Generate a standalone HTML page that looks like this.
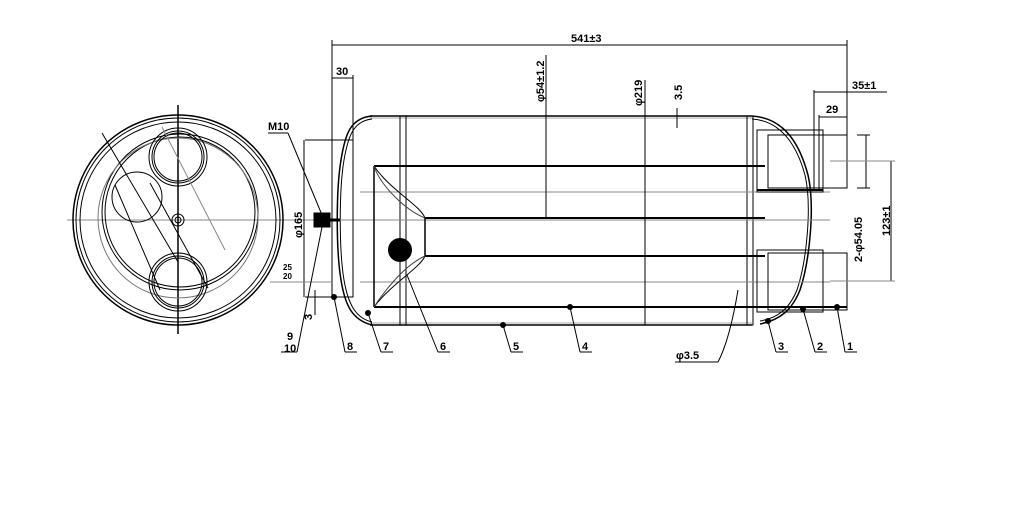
<!DOCTYPE html>
<html><head><meta charset="utf-8"><style>
html,body{margin:0;padding:0;background:#fff;width:1024px;height:507px;overflow:hidden}
svg{display:block}
text{font-family:"Liberation Sans",sans-serif;font-weight:bold;fill:#000}
</style></head><body>
<svg width="1024" height="507" viewBox="0 0 1024 507" xmlns="http://www.w3.org/2000/svg">
<g fill="none" stroke="#000" stroke-width="1">
<line x1="67" y1="220" x2="330" y2="220" stroke="#888"/>
<line x1="178" y1="105" x2="178" y2="334" stroke-width="1.5"/>
<circle cx="178" cy="220" r="105" stroke-width="1.5"/>
<circle cx="178" cy="220" r="102"/>
<circle cx="178" cy="220" r="98"/>
<circle cx="180" cy="212" r="78"/>
<circle cx="180" cy="212" r="75"/>
<circle cx="178" cy="218" r="80" stroke="#777"/>
<circle cx="178" cy="157" r="29"/><circle cx="178" cy="157" r="26"/><circle cx="178" cy="157" r="24"/>
<circle cx="178" cy="282" r="29"/><circle cx="178" cy="282" r="26"/><circle cx="178" cy="282" r="24"/>
<circle cx="137" cy="197" r="25"/>
<circle cx="178" cy="220" r="6"/><circle cx="178" cy="220" r="3"/>
<line x1="102" y1="133" x2="178" y2="262"/>
<line x1="115" y1="185" x2="160" y2="290"/>
<line x1="150" y1="183" x2="208" y2="288"/>
<line x1="162" y1="127" x2="225" y2="250" stroke="#888"/>
<line x1="370" y1="116" x2="752" y2="116" stroke-width="1.5"/>
<line x1="370" y1="118" x2="752" y2="118" stroke="#aaa"/>
<line x1="370" y1="325" x2="752" y2="325" stroke-width="1.5"/>
<line x1="370" y1="323" x2="752" y2="323" stroke="#aaa"/>
<path d="M372 116 C350 118 345 135 341 160 C336 190 336 250 341 280 C345 305 352 320 372 325" stroke-width="1.5"/>
<path d="M372 119 C353 121 348 137 344 160 C339 190 339 250 344 280 C348 303 355 318 372 322"/>
<path d="M752 116 C785 118 800 145 808 175 C815 205 810 260 800 290 C792 310 780 320 760 324" stroke-width="1.5"/>
<path d="M752 119 C782 121 797 146 805 175 C812 205 807 260 797 290 C789 309 778 318 760 321"/>
<rect x="400" y="116" width="6" height="209"/>
<rect x="747" y="116" width="6" height="209"/>
<line x1="374" y1="166" x2="765" y2="166" stroke-width="2"/>
<line x1="425" y1="218" x2="765" y2="218" stroke-width="2"/>
<line x1="425" y1="256" x2="765" y2="256" stroke-width="2"/>
<line x1="374" y1="307" x2="770" y2="307" stroke-width="2"/>
<line x1="360" y1="192" x2="830" y2="192" stroke="#888"/>
<line x1="320" y1="220" x2="830" y2="220" stroke="#888"/>
<line x1="360" y1="282" x2="830" y2="282" stroke="#888"/>
<line x1="374" y1="166" x2="374" y2="307" stroke-width="1.5"/>
<line x1="425" y1="218" x2="425" y2="256" stroke-width="1.5"/>
<path d="M374 166 C390 190 420 205 425 218"/>
<path d="M374 307 C390 285 420 268 425 256"/>
<path d="M374 166 C380 185 405 210 425 218" stroke="#444"/>
<path d="M374 307 C385 290 405 265 425 256" stroke="#444"/>
<rect x="757" y="130" width="66" height="62"/>
<rect x="768" y="135" width="79" height="53"/>
<line x1="757" y1="190" x2="823" y2="190" stroke-width="2"/>
<rect x="757" y="250" width="66" height="62"/>
<rect x="768" y="253" width="79" height="57"/>
<line x1="757" y1="307" x2="847" y2="307" stroke-width="2"/>
<rect x="332" y="140" width="21" height="157"/>
<rect x="314" y="213" width="16" height="14" fill="#000"/>
<line x1="330" y1="220" x2="340" y2="220" stroke-width="3"/>
<line x1="332" y1="45" x2="847" y2="45"/>
<line x1="332" y1="40" x2="332" y2="140"/>
<line x1="847" y1="40" x2="847" y2="140"/>
<line x1="332" y1="78" x2="353" y2="78"/>
<line x1="353" y1="75" x2="353" y2="150"/>
<line x1="546" y1="55" x2="546" y2="218"/>
<line x1="645" y1="80" x2="645" y2="325"/>
<line x1="677" y1="108" x2="677" y2="128"/>
<line x1="814" y1="92" x2="887" y2="92"/>
<line x1="814" y1="90" x2="814" y2="190"/>
<line x1="819" y1="117" x2="847" y2="117"/>
<line x1="819" y1="115" x2="819" y2="190"/>
<line x1="866" y1="135" x2="866" y2="188"/>
<line x1="857" y1="135" x2="870" y2="135"/>
<line x1="857" y1="188" x2="870" y2="188"/>
<line x1="891" y1="161" x2="891" y2="281"/>
<line x1="830" y1="161" x2="895" y2="161" stroke="#888"/>
<line x1="830" y1="281" x2="895" y2="281" stroke="#888"/>
<line x1="305" y1="140" x2="332" y2="140"/>
<line x1="305" y1="297" x2="332" y2="297"/>
<line x1="304" y1="140" x2="304" y2="297"/>
<line x1="270" y1="282" x2="332" y2="282" stroke="#888"/>
<line x1="315" y1="290" x2="315" y2="315"/>
<line x1="288" y1="133" x2="322" y2="215"/>
<line x1="268" y1="133" x2="288" y2="133"/>
<line x1="322" y1="227" x2="297" y2="352"/>
<line x1="281" y1="352" x2="297" y2="352"/>
<line x1="334" y1="297" x2="345" y2="352"/><line x1="345" y1="352" x2="357" y2="352"/>
<line x1="368" y1="313" x2="381" y2="352"/><line x1="381" y1="352" x2="393" y2="352"/>
<line x1="407" y1="275" x2="438" y2="352"/><line x1="438" y1="352" x2="450" y2="352"/>
<line x1="503" y1="325" x2="511" y2="352"/><line x1="511" y1="352" x2="523" y2="352"/>
<line x1="570" y1="307" x2="580" y2="352"/><line x1="580" y1="352" x2="592" y2="352"/>
<line x1="768" y1="321" x2="776" y2="352"/><line x1="776" y1="352" x2="788" y2="352"/>
<line x1="803" y1="309" x2="815" y2="352"/><line x1="815" y1="352" x2="827" y2="352"/>
<line x1="837" y1="307" x2="845" y2="352"/><line x1="845" y1="352" x2="857" y2="352"/>
<path d="M738 290 C733 320 727 345 718 362"/><line x1="675" y1="362" x2="718" y2="362"/>
</g>
<g fill="#000">
<circle cx="400" cy="250" r="12"/>
<circle cx="334" cy="297" r="3"/><circle cx="368" cy="313" r="3"/>
<circle cx="503" cy="325" r="3"/><circle cx="570" cy="307" r="3"/>
<circle cx="768" cy="321" r="3"/><circle cx="803" cy="309" r="3"/><circle cx="837" cy="307" r="3"/>
</g>
<g font-size="11">
<text x="571" y="42">541±3</text>
<text x="336" y="75">30</text>
<text x="852" y="89">35±1</text>
<text x="826" y="113">29</text>
<text x="268" y="130">M10</text>
<text x="283" y="270" font-size="8">25</text>
<text x="283" y="279" font-size="8">20</text>
<text x="287" y="340">9</text>
<text x="284" y="352">10</text>
<text x="347" y="350">8</text>
<text x="383" y="350">7</text>
<text x="440" y="350">6</text>
<text x="513" y="350">5</text>
<text x="582" y="350">4</text>
<text x="778" y="350">3</text>
<text x="817" y="350">2</text>
<text x="847" y="350">1</text>
<text x="676" y="359">φ3.5</text>
<text transform="translate(544,102) rotate(-90)">φ54±1.2</text>
<text transform="translate(642,106) rotate(-90)">φ219</text>
<text transform="translate(682,100) rotate(-90)">3.5</text>
<text transform="translate(302,238) rotate(-90)">φ165</text>
<text transform="translate(312,320) rotate(-90)">3</text>
<text transform="translate(890,236) rotate(-90)">123±1</text>
<text transform="translate(862,262) rotate(-90)">2-φ54.05</text>
</g>
</svg>
</body></html>
